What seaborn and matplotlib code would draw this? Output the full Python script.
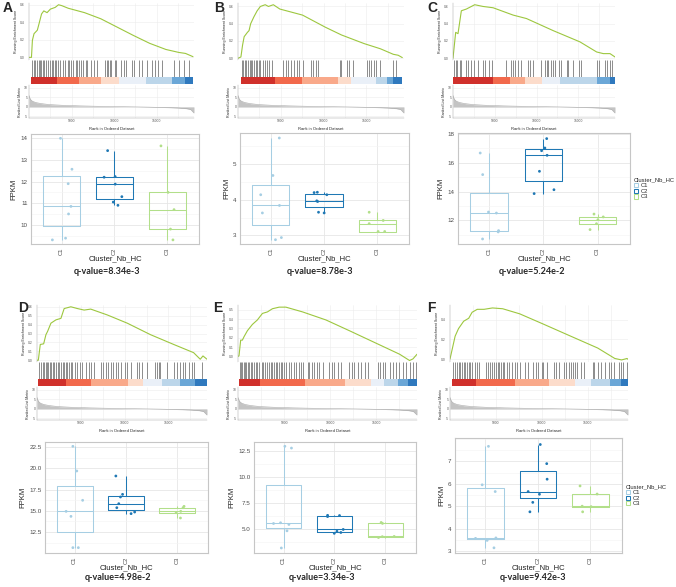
import numpy as np
import pandas as pd
import matplotlib.pyplot as plt
import seaborn as sns
from matplotlib.ticker import AutoMinorLocator, FixedLocator

W, H = 676, 587

sns.set_style("white")
plt.rcParams.update(
    {
        "font.family": ["Liberation Sans", "DejaVu Sans"],
        "axes.linewidth": 0.6,
        "xtick.major.size": 1.5,
        "ytick.major.size": 1.5,
        "xtick.major.width": 0.4,
        "ytick.major.width": 0.4,
    }
)

# ---------------- data ----------------
cluster_names = ["C1", "C2", "C3"]
cluster_colors = ["#a6cee3", "#1f78b4", "#b2df8a"]

n_genes = 19400
rank_ticks = [5000, 10000, 15000]

# ranked list metric (shared shape in all panels)
metric_rank = [0, 150, 400, 800, 1500, 2500, 4000, 6000, 8000, 10000, 12000, 14000, 16000, 17500, 18500, 19000, 19400]
metric_value = [6.0, 4.0, 3.0, 2.3, 1.7, 1.2, 0.85, 0.55, 0.35, 0.2, 0.05, -0.1, -0.3, -0.55, -0.9, -1.3, -3.2]

# colour bar segments (RdBu style)
bar_colors = ["#d0302b", "#f2694c", "#f9a98a", "#fcdccb", "#eaf0f8", "#bcd6ea", "#6ba7d7", "#2f79be"]

# panel A
es_rank_a = [0, 290, 400, 590, 785, 980, 1170, 1475, 1740, 2125, 2510, 3080, 3470, 3850, 4615, 6530, 8445, 10360, 12275, 14190, 16100, 17630, 18400, 19280]
es_score_a = [0.0, 0.0, 0.195, 0.27, 0.29, 0.31, 0.38, 0.495, 0.53, 0.51, 0.55, 0.57, 0.60, 0.59, 0.56, 0.51, 0.44, 0.345, 0.25, 0.16, 0.09, 0.056, 0.045, 0.008]
hits_a = [380, 570, 760, 950, 1140, 1250, 1440, 1600, 1820, 2010, 2280, 2470, 2660, 2850, 3040, 3230, 3420, 3610, 3990, 4180, 4560, 4750, 4940, 5130, 5510, 5700, 5890, 6160, 6380, 6650, 6840, 7300, 7600, 7980, 8930, 9120, 9310, 9500, 9690, 10070, 10260, 10830, 11210, 11400, 12160, 12350, 12920, 13300, 13870, 14440, 14820, 15200, 15580, 17100, 17670, 18240, 18810]
bar_edges_a = [290, 3270, 5840, 8440, 10550, 13800, 16860, 18390, 19280]

# panel B
es_rank_b = [0, 340, 530, 720, 1100, 1290, 1480, 1860, 2240, 2615, 3180, 3560, 4130, 4890, 5650, 7540, 10200, 12090, 14740, 16640, 18150, 18720, 19200]
es_score_b = [0.0, 0.015, 0.15, 0.25, 0.30, 0.32, 0.40, 0.48, 0.55, 0.60, 0.62, 0.60, 0.62, 0.57, 0.55, 0.50, 0.36, 0.27, 0.17, 0.11, 0.046, 0.035, 0.008]
hits_b = [420, 640, 800, 990, 1170, 1360, 1480, 1670, 1860, 2050, 2240, 2430, 2620, 2920, 3180, 3370, 3680, 3940, 5270, 5570, 5840, 6220, 6590, 6860, 7160, 7620, 8490, 8750, 9060, 9360, 11900, 12090, 12770, 12920, 13420, 15050, 15310, 15500, 15880, 16180, 16640, 18150, 18460]
bar_edges_b = [340, 4320, 7470, 11640, 13230, 16070, 17400, 18150, 19200]

# panel C
es_rank_c = [0, 320, 600, 1000, 1600, 2000, 2600, 3600, 4800, 7200, 8800, 12000, 15200, 17200, 18000, 18800, 19400]
es_score_c = [0.0, 0.30, 0.285, 0.55, 0.57, 0.59, 0.62, 0.60, 0.585, 0.50, 0.46, 0.32, 0.19, 0.073, 0.054, 0.054, 0.015]
hits_c = [120, 320, 480, 800, 1000, 1520, 1800, 2200, 2480, 3000, 3600, 3800, 4320, 4720, 6400, 7000, 7200, 7400, 7800, 8200, 9000, 9280, 9600, 10480, 11000, 11200, 11400, 11680, 12000, 12200, 12720, 12880, 13600, 13800, 14320, 15120, 15280, 17280, 17520, 18200, 18480, 18800, 19000]
bar_edges_c = [0, 4800, 6880, 8600, 10600, 12800, 17200, 18800, 19400]

# panel D
es_rank_d = [0, 150, 375, 760, 1020, 1210, 1590, 2160, 2730, 3100, 3860, 4620, 5380, 6130, 8030, 10300, 12950, 15600, 17870, 18630, 18940, 19400]
es_score_d = [0.0, 0.0, 0.177, 0.184, 0.287, 0.324, 0.416, 0.453, 0.47, 0.58, 0.60, 0.58, 0.563, 0.574, 0.508, 0.416, 0.287, 0.177, 0.085, 0.011, 0.048, 0.011]
hits_d = [265, 455, 645, 830, 1020, 1140, 1290, 1440, 1590, 1780, 1970, 2160, 2350, 2540, 2730, 2920, 3110, 3300, 3480, 3670, 3860, 4050, 4320, 4620, 4920, 5190, 5570, 5950, 6210, 6510, 7270, 7570, 7840, 8100, 8410, 8710, 8980, 9240, 9620, 10000, 10300, 10680, 11360, 11630, 12000, 12570, 13520, 13710, 13900, 14090, 14850, 15600, 15980, 16360, 16660, 16930, 17310, 17690, 17870, 18820]
bar_edges_d = [150, 3300, 6130, 10380, 12120, 14280, 16360, 18060, 19400]

# panel E
es_rank_e = [0, 110, 290, 475, 650, 1020, 1560, 2100, 2650, 3190, 3730, 4460, 5190, 7000, 9530, 12070, 14970, 17520, 18590, 18960, 19400]
es_score_e = [0.0, 0.007, 0.174, 0.174, 0.21, 0.275, 0.342, 0.39, 0.46, 0.476, 0.51, 0.527, 0.527, 0.476, 0.39, 0.275, 0.141, 0.023, -0.044, -0.027, 0.023]
hits_e = [185, 330, 475, 620, 765, 910, 1055, 1200, 1380, 1560, 1740, 1920, 2100, 2290, 2580, 2720, 2940, 3190, 3370, 3550, 3735, 3920, 4100, 4280, 4460, 4640, 4820, 5000, 5185, 5475, 5730, 6090, 6270, 6560, 6815, 7070, 7540, 7720, 8010, 8260, 8520, 8810, 9170, 9900, 10180, 10440, 10800, 11160, 12070, 12360, 12610, 12970, 13340, 13810, 14060, 15150, 15400, 15690, 15980, 16420, 16780, 17140, 17500, 17870, 18230, 18590, 18950, 19240]
bar_edges_e = [110, 2360, 7290, 11630, 14420, 15870, 17320, 18410, 19400]

# panel F
es_rank_f = [0, 560, 930, 1490, 2040, 2410, 2970, 3710, 4630, 5740, 7600, 10190, 13150, 16100, 17960, 18700, 19300, 19400]
es_score_f = [0.0, 0.233, 0.31, 0.385, 0.415, 0.476, 0.506, 0.506, 0.52, 0.512, 0.46, 0.355, 0.233, 0.112, 0.006, -0.009, 0.006, -0.003]
hits_f = [374, 559, 744, 929, 1114, 1299, 1484, 1669, 1854, 2039, 2224, 2409, 2779, 2964, 3149, 3889, 4185, 4333, 4555, 4814, 4999, 5184, 5369, 5554, 5739, 5924, 6183, 6479, 6775, 7034, 7293, 7589, 8144, 8514, 9069, 9365, 9624, 9994, 10179, 10623, 11363, 11585, 11844, 12473, 12695, 12954, 13139, 13435, 13583, 13879, 14249, 14619, 15544, 15729, 16099, 16469, 16839, 17283, 17579, 17875, 18393, 18615, 18874, 19244]
bar_edges_f = [190, 2850, 7030, 10840, 13580, 15360, 17390, 18690, 19400]

# FPKM values per cluster
fpkm_a_c1 = [14.0, 12.57, 11.9, 10.85, 10.5, 9.38, 9.3]
fpkm_a_c2 = [13.43, 12.23, 12.2, 11.88, 11.3, 11.05, 10.9]
fpkm_a_c3 = [13.65, 11.5, 10.7, 9.8, 9.3]
fpkm_b_c1 = [5.73, 4.68, 4.14, 3.84, 3.63, 2.94, 2.88]
fpkm_b_c2 = [4.21, 4.2, 4.14, 3.97, 3.95, 3.65, 3.63]
fpkm_b_c3 = [3.65, 3.42, 3.33, 3.11, 3.11]
fpkm_c_c1 = [16.68, 15.18, 12.58, 12.51, 11.29, 11.2, 10.71]
fpkm_c_c2 = [17.68, 17.03, 16.84, 16.52, 15.41, 14.13, 13.86]
fpkm_c_c3 = [12.44, 12.24, 12.05, 11.77, 11.36]
fpkm_d_c1 = [22.58, 19.68, 16.23, 14.93, 14.34, 10.66, 10.66]
fpkm_d_c2 = [19.09, 16.93, 16.62, 15.83, 15.36, 14.85, 14.66]
fpkm_d_c3 = [15.52, 15.36, 14.93, 14.77, 14.15]
fpkm_e_c1 = [12.92, 12.75, 5.61, 5.54, 5.45, 4.84, 3.2]
fpkm_e_c2 = [6.32, 6.3, 6.2, 4.97, 4.8, 4.68, 4.6]
fpkm_e_c3 = [5.64, 5.55, 4.3, 4.28, 4.2]
fpkm_f_c1 = [7.67, 5.96, 5.66, 3.6, 3.58, 3.49, 3.16]
fpkm_f_c2 = [7.75, 6.9, 6.21, 5.66, 5.54, 5.18, 4.76]
fpkm_f_c3 = [5.91, 5.55, 5.01, 4.99, 4.76]

q_values = ["q-value=8.34e-3", "q-value=8.78e-3", "q-value=5.24e-2",
            "q-value=4.98e-2", "q-value=3.34e-3", "q-value=9.42e-3"]

# ---------------- drawing ----------------
fig = plt.figure(figsize=(W / 100, H / 100), dpi=100)


def px_axes(x0, y0, x1, y1):
    return fig.add_axes([x0 / W, 1 - y1 / H, (x1 - x0) / W, (y1 - y0) / H])


def gsea_panel(letter, letter_xy, x0, x1, top, es_rank, es_score, es_ylim, es_ticks, hits, edges):
    fig.text(letter_xy[0] / W, 1 - letter_xy[1] / H, letter, fontsize=10,
             fontweight="bold", ha="left", va="center")
    ax_es = px_axes(x0, top, x1, top + 57)
    ax_hit = px_axes(x0, top + 57, x1, top + 74)
    ax_bar = px_axes(x0, top + 74, x1, top + 81)
    ax_rm = px_axes(x0, top + 82, x1, top + 115)
    for ax in (ax_es, ax_hit, ax_bar, ax_rm):
        ax.set_xlim(0, n_genes)
        for s in ax.spines.values():
            s.set_visible(False)

    sns.lineplot(x=es_rank, y=es_score, ax=ax_es, color="#9dc73f", linewidth=0.8)
    ax_es.set_ylim(*es_ylim)
    ax_es.set_yticks(es_ticks)
    ax_es.set_yticklabels([f"{t:.1f}" for t in es_ticks], fontsize=2.4, color="#555555")
    ax_es.set_xticks(rank_ticks)
    ax_es.set_xticklabels([])
    ax_es.xaxis.set_minor_locator(FixedLocator([2500, 7500, 12500, 17500]))
    ax_es.tick_params(length=0)
    ax_es.grid(True, which="both", color="#ececec", linewidth=0.4)
    ax_es.set_ylabel("Running Enrichment Score", fontsize=2.6, labelpad=1)
    ax_es.spines["left"].set_visible(True)
    ax_es.spines["left"].set_color("#999999")
    ax_es.spines["left"].set_linewidth(0.3)

    ax_hit.vlines(hits, 0, 1, color="black", alpha=0.45, linewidth=0.7)
    ax_hit.set_ylim(0, 1)
    ax_hit.set_xticks([])
    ax_hit.set_yticks([])

    for k, c in enumerate(bar_colors):
        ax_bar.axvspan(edges[k], edges[k + 1], color=c, linewidth=0)
    ax_bar.set_xticks([])
    ax_bar.set_yticks([])

    ax_rm.fill_between(metric_rank, metric_value, 0, color="#c4c4c4", linewidth=0)
    ax_rm.plot(metric_rank, metric_value, color="#aaaaaa", linewidth=0.4)
    ax_rm.set_ylim(-5.8, 11.5)
    ax_rm.set_yticks([-5, 0, 5, 10])
    ax_rm.set_yticklabels(["-5", "0", "5", "10"], fontsize=2.4, color="#555555")
    ax_rm.set_xticks(rank_ticks)
    ax_rm.set_xticklabels([str(t) for t in rank_ticks], fontsize=2.4, color="#555555")
    ax_rm.xaxis.set_minor_locator(FixedLocator([2500, 7500, 12500, 17500]))
    ax_rm.tick_params(length=0, pad=1)
    ax_rm.grid(True, which="both", axis="x", color="#ececec", linewidth=0.4)
    ax_rm.grid(True, which="major", axis="y", color="#ececec", linewidth=0.4)
    ax_rm.set_ylabel("Ranked List Metric", fontsize=2.6, labelpad=1)
    ax_rm.set_xlabel("Rank in Ordered Dataset", fontsize=3, labelpad=1)
    ax_rm.spines["left"].set_visible(True)
    ax_rm.spines["left"].set_color("#999999")
    ax_rm.spines["left"].set_linewidth(0.3)
    ax_rm.spines["bottom"].set_visible(True)
    ax_rm.spines["bottom"].set_color("#999999")
    ax_rm.spines["bottom"].set_linewidth(0.3)


def box_panel(rect, c1, c2, c3, ylim, yticks, ylabels, legend, qtext, qxy):
    df = pd.DataFrame(
        {
            "cluster": ["C1"] * len(c1) + ["C2"] * len(c2) + ["C3"] * len(c3),
            "fpkm": c1 + c2 + c3,
        }
    )
    ax = px_axes(*rect)
    pal = dict(zip(cluster_names, cluster_colors))
    sns.boxplot(data=df, x="cluster", y="fpkm", hue="cluster", palette=pal,
                fill=False, width=0.7, linewidth=0.75, saturation=1,
                showfliers=False, showcaps=False, legend=legend, ax=ax)
    sns.stripplot(data=df, x="cluster", y="fpkm", hue="cluster", palette=pal,
                  size=2, jitter=0.2, legend=False, ax=ax, zorder=3)
    ax.set_xlim(-0.58, 2.6)
    ax.set_ylim(*ylim)
    ax.set_yticks(yticks)
    ax.set_yticklabels(ylabels, fontsize=4.5, color="#4d4d4d")
    ax.yaxis.set_minor_locator(AutoMinorLocator(2))
    ax.tick_params(axis="x", labelrotation=90, labelsize=4.2, labelcolor="#4d4d4d", pad=1)
    ax.tick_params(axis="y", pad=1)
    ax.tick_params(which="minor", length=0)
    ax.grid(True, which="major", color="#e6e6e6", linewidth=0.6)
    ax.grid(True, which="minor", axis="y", color="#f3f3f3", linewidth=0.4)
    ax.set_axisbelow(True)
    for s in ax.spines.values():
        s.set_color("#c6c6c6")
        s.set_linewidth(0.8)
    ax.set_xlabel("Cluster_Nb_HC", fontsize=5.5, color="#222222")
    ax.xaxis.set_label_coords(0.5, -0.1)
    ax.set_ylabel("FPKM", fontsize=5.5, labelpad=2, color="#222222")
    if legend:
        sns.move_legend(ax, "center left", bbox_to_anchor=(1.0, 0.5), frameon=False,
                        title="Cluster_Nb_HC", fontsize=4.2, title_fontsize=4.2,
                        handlelength=0.7, handleheight=0.7, labelspacing=0.1,
                        handletextpad=0.4, borderaxespad=0.3, alignment="left")
    fig.text(qxy[0] / W, 1 - qxy[1] / H, qtext, ha="center", va="center",
             fontsize=6.5, fontweight="bold", family=["Lato", "DejaVu Sans"])


gsea_panel("A", (3, 8), 29, 194, 3, es_rank_a, es_score_a, (-0.03, 0.62), [0.0, 0.2, 0.4, 0.6], hits_a, bar_edges_a)
gsea_panel("B", (214, 8), 238, 404, 3, es_rank_b, es_score_b, (-0.02, 0.64), [0.0, 0.2, 0.4, 0.6], hits_b, bar_edges_b)
gsea_panel("C", (427, 8), 453, 615, 3, es_rank_c, es_score_c, (-0.02, 0.64), [0.0, 0.2, 0.4, 0.6], hits_c, bar_edges_c)
gsea_panel("D", (18, 308), 37, 207, 305, es_rank_d, es_score_d, (-0.02, 0.62), [0.0, 0.1, 0.2, 0.3, 0.4, 0.5, 0.6], hits_d, bar_edges_d)
gsea_panel("E", (213, 308), 238, 417, 305, es_rank_e, es_score_e, (-0.06, 0.55), [0.0, 0.1, 0.2, 0.3, 0.4, 0.5], hits_e, bar_edges_e)
gsea_panel("F", (427, 308), 450, 628, 305, es_rank_f, es_score_f, (-0.03, 0.55), [0.0, 0.2, 0.4], hits_f, bar_edges_f)

box_panel((31, 134, 199, 244), fpkm_a_c1, fpkm_a_c2, fpkm_a_c3, (9.11, 14.2), [10, 11, 12, 13, 14], ["10", "11", "12", "13", "14"], False, q_values[0], (107, 272))
box_panel((240, 133, 409, 244), fpkm_b_c1, fpkm_b_c2, fpkm_b_c3, (2.76, 5.87), [3, 4, 5], ["3", "4", "5"], False, q_values[1], (320, 271))
box_panel((458, 133, 630, 244), fpkm_c_c1, fpkm_c_c2, fpkm_c_c3, (10.36, 18.07), [12, 14, 16, 18], ["12", "14", "16", "18"], True, q_values[2], (532, 272))
box_panel((45, 442, 208, 553), fpkm_d_c1, fpkm_d_c2, fpkm_d_c3, (10.03, 23.09), [12.5, 15, 17.5, 20, 22.5], ["12.5", "15.0", "17.5", "20.0", "22.5"], False, q_values[3], (118, 578))
box_panel((254, 442, 416, 553), fpkm_e_c1, fpkm_e_c2, fpkm_e_c3, (2.72, 13.33), [5, 7.5, 10, 12.5], ["5.0", "7.5", "10.0", "12.5"], False, q_values[4], (322, 578))
box_panel((455, 438, 622, 553), fpkm_f_c1, fpkm_f_c2, fpkm_f_c3, (2.93, 8.04), [3, 4, 5, 6, 7], ["3", "4", "5", "6", "7"], True, q_values[5], (533, 578))

fig.savefig("out.png", dpi=100, facecolor="white")
